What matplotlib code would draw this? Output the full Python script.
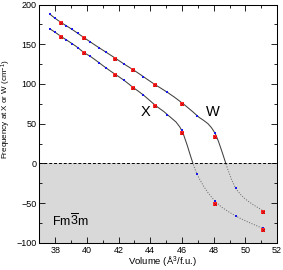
import matplotlib
matplotlib.use("Agg")
import matplotlib.pyplot as plt
import numpy as np
from matplotlib.patches import Rectangle, PathPatch
from matplotlib.path import Path

plt.rcParams['font.family'] = ['Liberation Sans', 'DejaVu Sans']
plt.rcParams['mathtext.fontset'] = 'custom'
plt.rcParams['mathtext.rm'] = 'Liberation Sans'
plt.rcParams['mathtext.it'] = 'Liberation Sans'

# volumes (A^3/f.u.) of the computed points
volume = [37.67, 37.99, 38.35, 38.68, 39.06, 39.44, 39.82, 40.20, 40.76, 41.21,
          41.77, 42.34, 42.93, 43.56, 44.30, 45.07, 45.98, 46.96, 48.08, 49.40, 51.09]
freq_w = [187.9, 182.8, 177.8, 173.6, 168.8, 163.6, 158.4, 153.2, 145.8, 140.0,
          132.8, 125.2, 117.8, 109.3, 99.2, 89.6, 76.5, 60.0, 37.9, -31.4, -59.7]
freq_x = [169.4, 165.2, 160.2, 155.9, 150.9, 145.6, 139.4, 135.0, 126.9, 120.2,
          112.4, 104.7, 95.4, 86.2, 73.4, 61.5, 41.5, -13.8, -47.4, -66.3, -81.9]

# second set of points (red)
volume_red = [38.35, 39.82, 41.77, 42.93, 44.30, 45.98, 48.08, 51.09]
freq_w_red = [177.0, 157.6, 132.0, 117.0, 98.6, 74.8, 33.6, -61.7]
freq_x_red = [159.4, 138.6, 111.6, 94.4, 72.6, 38.7, -51.3, -84.0]


# smooth curve through the points (Catmull-Rom as cubic bezier)
def smooth_path(xs, ys):
    pts = np.column_stack([xs, ys])
    n = len(pts)
    verts = [pts[0]]
    codes = [Path.MOVETO]
    for i in range(n - 1):
        p0 = pts[max(i - 1, 0)]
        p1 = pts[i]
        p2 = pts[i + 1]
        p3 = pts[min(i + 2, n - 1)]
        verts += [p1 + (p2 - p0) / 6, p2 - (p3 - p1) / 6, p2]
        codes += [Path.CURVE4] * 3
    return Path(verts, codes)


fig, ax = plt.subplots(figsize=(2.83, 2.70), dpi=100)
plt.subplots_adjust(left=0.139, right=0.979, bottom=0.101, top=0.983)

ax.set_xlim(37, 52)
ax.set_ylim(-100, 200)

# shaded unstable region
ax.axhspan(-100, 0, color='#d9d9d9', zorder=0, lw=0)
ax.axhline(0, color='black', ls=(0, (3, 2)), lw=0.7, zorder=1)

for fr in (freq_w, freq_x):
    path = smooth_path(volume, fr)
    solid = PathPatch(path, fill=False, ec='#404040', lw=0.75, zorder=2)
    ax.add_patch(solid)
    solid.set_clip_path(Rectangle((37, 0), 15, 200, transform=ax.transData))
    dotted = PathPatch(path, fill=False, ec='#707070', lw=0.75, ls=(0, (1, 1.5)), zorder=2)
    ax.add_patch(dotted)
    dotted.set_clip_path(Rectangle((37, -100), 15, 100, transform=ax.transData))

for fr in (freq_w, freq_x):
    ax.plot(volume, fr, 's', ms=1.7, color='#1818e8', mew=0, zorder=3)
for fr in (freq_w_red, freq_x_red):
    ax.plot(volume_red, fr, 's', ms=2.4, color='#ff2828', mew=0, zorder=4)
    ax.plot(volume_red, fr, 'x', ms=2.0, color='#c00000', mew=0.5, zorder=5)

ax.text(43.71, 64.7, 'X', fontsize=10.5, ha='center', va='center')
ax.text(47.95, 64.7, 'W', fontsize=10.5, ha='center', va='center')
ax.text(37.8, -73, r'Fm$\overline{3}$m', fontsize=9, ha='left', va='center')

ax.set_xticks(range(38, 53, 2))
ax.set_xticks(range(37, 53), minor=True)
ax.set_yticks(range(-100, 201, 50))
ax.set_yticks(range(-100, 201, 25), minor=True)
ax.tick_params(which='both', direction='in', top=True, right=True, labelsize=6.5, width=0.6, pad=2)
ax.tick_params(which='major', length=4)
ax.tick_params(which='minor', length=2)
for s in ax.spines.values():
    s.set_linewidth(0.75)

ax.set_xlabel('Volume (Å$^3$/f.u.)', fontsize=6.8)
ax.set_ylabel(r'Frequency at X or W (cm$^{-1}$)', fontsize=5.8)
ax.xaxis.set_label_coords(0.518, -0.047)
ax.yaxis.set_label_coords(-0.112, 0.56)

fig.savefig('out.png', dpi=100)
